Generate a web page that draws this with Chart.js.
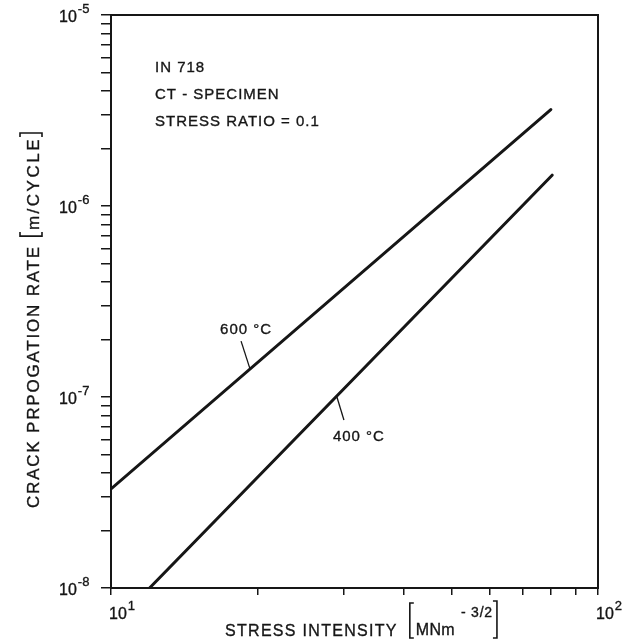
<!DOCTYPE html>
<html>
<head>
<meta charset="utf-8">
<script src="https://cdn.jsdelivr.net/npm/chart.js@4.4.0/dist/chart.umd.min.js"></script>
<style>
  html, body { margin: 0; padding: 0; background: #fff; }
  canvas { display: block; }
</style>
</head>
<body>
<canvas id="crackChart" width="630" height="643"></canvas>
<script>
// axis ranges: stress intensity K [MNm^-3/2], growth rate da/dN [m/cycle]
var kRange = [10, 100];
var rateRange = [1e-8, 1e-5];

// decades that get a 10^n label
var xDecades = [1, 2];
var yDecades = [-8, -7, -6, -5];

// crack growth lines (straight on log-log paper, so end points are enough)
var k600 = [10, 80];
var rate600 = [3.3e-8, 3.2e-6];
var k400 = [12, 80.5];
var rate400 = [1.0e-8, 1.45e-6];

// points on each line where the temperature label leaders touch
var tag600 = { text: '600 °C', k: 19.3, rate: 1.4e-7 };
var tag400 = { text: '400 °C', k: 29.1, rate: 1.0e-7 };

var infoLines = ['IN 718', 'CT - SPECIMEN', 'STRESS RATIO = 0.1'];

var ink = '#161616';
var FONT = '"Liberation Sans", Arial, sans-serif';

function toPoints(xs, ys) {
  return xs.map(function (x, i) { return { x: x, y: ys[i] }; });
}

// tick marks at 1..9 x 10^n for each decade
function decadeTicks(lo, hi) {
  var t = [];
  for (var e = lo; e < hi; e++) {
    for (var m = 1; m < 10; m++) t.push({ value: m * Math.pow(10, e), major: m === 1 });
  }
  t.push({ value: Math.pow(10, hi), major: true });
  return t;
}

// lettering pen is a bit heavier than the regular face
function inkText(ctx, s, x, y) {
  ctx.fillText(s, x, y);
  ctx.save();
  ctx.lineWidth = 0.35;
  ctx.strokeText(s, x, y);
  ctx.restore();
}

function drawPower(ctx, exp, x, y) {
  ctx.font = '16px ' + FONT;
  ctx.letterSpacing = '0px';
  ctx.textAlign = 'left';
  inkText(ctx, '10', x, y);
  var w = ctx.measureText('10').width;
  ctx.font = '13px ' + FONT;
  inkText(ctx, exp, x + w + 1, y - 9);
}

// square bracket drawn as a line, open towards +dir
function bracket(ctx, x, top, bottom, dir) {
  ctx.beginPath();
  ctx.moveTo(x + 4 * dir, top);
  ctx.lineTo(x, top);
  ctx.lineTo(x, bottom);
  ctx.lineTo(x + 4 * dir, bottom);
  ctx.stroke();
}

var paperPlugin = {
  id: 'paper',
  afterDraw: function (chart) {
    var ctx = chart.ctx, area = chart.chartArea;
    var xs = chart.scales.x, ys = chart.scales.y;
    ctx.save();
    ctx.strokeStyle = ink;
    ctx.fillStyle = ink;
    ctx.lineWidth = 2;
    ctx.strokeRect(area.left, area.top, area.right - area.left, area.bottom - area.top);

    // decade labels
    ctx.textBaseline = 'alphabetic';
    yDecades.forEach(function (e) {
      var py = ys.getPixelForValue(Math.pow(10, e));
      drawPower(ctx, '-' + Math.abs(e), area.left - 52, py + 7);
    });
    xDecades.forEach(function (e) {
      var px = xs.getPixelForValue(Math.pow(10, e));
      drawPower(ctx, String(e), px - 2, area.bottom + 31);
    });

    // material / specimen block
    ctx.font = '15px ' + FONT;
    ctx.letterSpacing = '1px';
    ctx.textAlign = 'left';
    infoLines.forEach(function (s, i) {
      inkText(ctx, s, area.left + 44, area.top + 57 + i * 27);
    });

    // temperature labels with leader lines
    ctx.lineWidth = 1.3;
    var a6x = xs.getPixelForValue(tag600.k), a6y = ys.getPixelForValue(tag600.rate);
    ctx.beginPath(); ctx.moveTo(a6x - 9, a6y - 28); ctx.lineTo(a6x, a6y); ctx.stroke();
    inkText(ctx, tag600.text, a6x - 30, a6y - 35);
    var a4x = xs.getPixelForValue(tag400.k), a4y = ys.getPixelForValue(tag400.rate);
    ctx.beginPath(); ctx.moveTo(a4x, a4y); ctx.lineTo(a4x + 7, a4y + 23); ctx.stroke();
    inkText(ctx, tag400.text, a4x - 4, a4y + 44);

    // y axis title, reading bottom to top
    ctx.save();
    ctx.translate(39, 508);
    ctx.rotate(-Math.PI / 2);
    ctx.font = '17px ' + FONT;
    ctx.letterSpacing = '1.8px';
    inkText(ctx, 'CRACK PRPOGATION RATE', 0, 0);
    var cx = ctx.measureText('CRACK PRPOGATION RATE').width + 9;
    ctx.lineWidth = 1.6;
    bracket(ctx, cx, -19, 3, 1);
    ctx.letterSpacing = '2.5px';
    inkText(ctx, 'm/CYCLE', cx + 6, 0);
    cx += 6 + ctx.measureText('m/CYCLE').width + 4;
    bracket(ctx, cx, -19, 3, -1);
    ctx.restore();

    // x axis title with unit
    ctx.font = '16px ' + FONT;
    ctx.letterSpacing = '1.3px';
    inkText(ctx, 'STRESS INTENSITY', 225, 636);
    var bx = 225 + ctx.measureText('STRESS INTENSITY').width + 12;
    ctx.lineWidth = 1.6;
    bracket(ctx, bx, 603, 638, 1);
    ctx.font = '16px ' + FONT;
    ctx.letterSpacing = '0.3px';
    inkText(ctx, 'MNm', bx + 6, 635);
    var ux = bx + 6 + ctx.measureText('MNm').width + 6;
    ctx.font = '14px ' + FONT;
    ctx.letterSpacing = '0.8px';
    inkText(ctx, '- 3/2', ux, 617);
    ux += ctx.measureText('- 3/2').width + 4;
    bracket(ctx, ux, 601, 638, -1);

    ctx.restore();
  }
};

var lineStyle = {
  showLine: true,
  pointRadius: 0,
  borderColor: ink,
  borderWidth: 3,
  borderCapStyle: 'round',
  fill: false
};

new Chart(document.getElementById('crackChart'), {
  type: 'scatter',
  data: {
    datasets: [
      Object.assign({ label: '600 °C', data: toPoints(k600, rate600) }, lineStyle),
      Object.assign({ label: '400 °C', data: toPoints(k400, rate400) }, lineStyle)
    ]
  },
  options: {
    responsive: false,
    animation: false,
    layout: { padding: { top: 15, right: 32, left: 0, bottom: 0 } },
    plugins: { legend: { display: false }, tooltip: { enabled: false } },
    scales: {
      x: {
        type: 'logarithmic',
        min: kRange[0],
        max: kRange[1],
        afterBuildTicks: function (s) { s.ticks = decadeTicks(xDecades[0], xDecades[xDecades.length - 1]); },
        afterFit: function (s) { s.height = 55; },
        ticks: { display: false },
        grid: { drawOnChartArea: false, tickLength: 7, color: ink, lineWidth: 1.5 },
        border: { display: true, color: ink, width: 2 }
      },
      y: {
        type: 'logarithmic',
        min: rateRange[0],
        max: rateRange[1],
        afterBuildTicks: function (s) { s.ticks = decadeTicks(yDecades[0], yDecades[yDecades.length - 1]); },
        afterFit: function (s) { s.width = 111; },
        ticks: { display: false },
        grid: { drawOnChartArea: false, tickLength: 10, color: ink, lineWidth: 1.5 },
        border: { display: true, color: ink, width: 2 }
      }
    }
  },
  plugins: [paperPlugin]
});
</script>
</body>
</html>
